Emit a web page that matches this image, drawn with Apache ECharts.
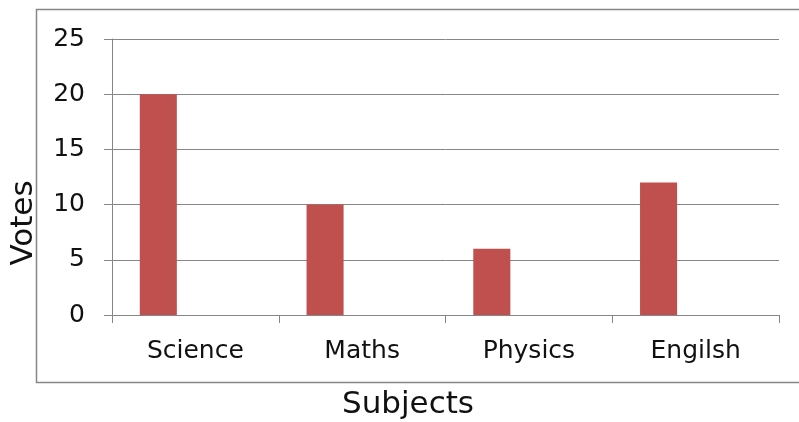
<!DOCTYPE html>
<html>
<head>
<meta charset="utf-8">
<script src="https://cdn.jsdelivr.net/npm/echarts@6/dist/echarts.min.js"></script>
<style>html,body{margin:0;padding:0;background:#fff}#c{width:799px;height:422px}</style>
</head>
<body>
<div id="c"></div>
<script>
const categories = ['Science', 'Maths', 'Physics', 'Engilsh'];
const votes = [20, 10, 6, 12];
const blankSeriesA = [null, null, null, null];
const blankSeriesB = [null, null, null, null];
const yTicks = { min: 0, max: 25, interval: 5 };
const xTitle = 'Subjects';
const yTitle = 'Votes';

const FONT = 'DejaVu Sans';
const GRAY = '#868686';
const chart = echarts.init(document.getElementById('c'), null, { renderer: 'canvas' });
chart.setOption({
  animation: false,
  backgroundColor: '#fff',
  grid: { left: 112, right: 20, top: 39, bottom: 107, containLabel: false },
  xAxis: {
    type: 'category',
    data: categories,
    axisLine: { lineStyle: { color: GRAY, width: 1 } },
    axisTick: { show: true, length: 8, lineStyle: { color: GRAY } },
    axisLabel: { color: '#111', fontFamily: FONT, fontSize: 25, margin: 24 }
  },
  yAxis: {
    type: 'value',
    min: yTicks.min, max: yTicks.max, interval: yTicks.interval,
    axisLine: { show: true, lineStyle: { color: GRAY, width: 1 } },
    axisTick: { show: true, length: 8, lineStyle: { color: GRAY } },
    splitLine: { show: true, lineStyle: { color: GRAY, width: 1 } },
    axisLabel: { color: '#111', fontFamily: FONT, fontSize: 25, margin: 27 }
  },
  series: [
    { type: 'bar', data: votes, itemStyle: { color: '#C0504D' }, barGap: '0%', barCategoryGap: '33.33%' },
    { type: 'bar', data: blankSeriesA, itemStyle: { color: '#4F81BD' } },
    { type: 'bar', data: blankSeriesB, itemStyle: { color: '#9BBB59' } }
  ],
  graphic: [
    { type: 'rect', shape: { x: 36.5, y: 9.5, width: 800, height: 373 }, style: { fill: null, stroke: GRAY, lineWidth: 1.5 }, silent: true, z: -1 },
    { type: 'text', x: 408, y: 405, style: { text: xTitle, font: '31px "DejaVu Sans"', fill: '#111', align: 'center', verticalAlign: 'middle' } },
    { type: 'text', x: 24, y: 223, rotation: Math.PI / 2, style: { text: yTitle, font: '31px "DejaVu Sans"', fill: '#111', align: 'center', verticalAlign: 'middle' } }
  ]
});
</script>
</body>
</html>
